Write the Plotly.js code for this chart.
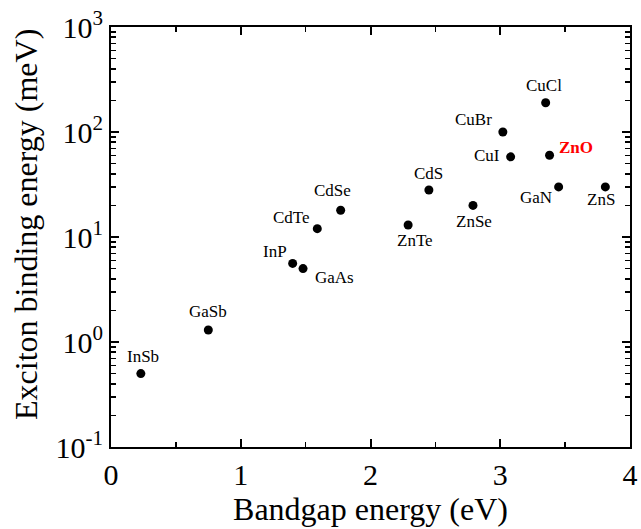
<!DOCTYPE html>
<html>
<head>
<meta charset="utf-8">
<script src="https://cdn.plot.ly/plotly-3.0.1.min.js"></script>
<style>html,body{margin:0;padding:0;background:#fff;}</style>
</head>
<body>
<div id="chart" style="width:641px;height:529px;"></div>
<script>
// Data
const materials = ["InSb","GaSb","InP","GaAs","CdTe","CdSe","ZnTe","CdS","ZnSe","CuBr","CuI","CuCl","ZnO","GaN","ZnS"];
const bandgap = [0.23, 0.75, 1.40, 1.48, 1.59, 1.77, 2.29, 2.45, 2.79, 3.02, 3.08, 3.35, 3.38, 3.45, 3.81];
const binding = [0.5, 1.3, 5.6, 5.0, 12, 18, 13, 28, 20, 100, 58, 190, 60, 30, 30];

// y tick labels
const yTickVals = [0.1, 1, 10, 100, 1000];
const yTickText = ["10<sup>-1</sup>", "10<sup>0</sup>", "10<sup>1</sup>", "10<sup>2</sup>", "10<sup>3</sup>"];
const yMinorVals = [];
yTickVals.slice(0, -1).forEach(d => { for (let k = 2; k <= 9; k++) yMinorVals.push(d * k); });
const yAllVals = yTickVals.concat(yMinorVals);
const yAllText = yTickText.concat(yMinorVals.map(() => ''));

// label offsets (px) relative to each point
const labelDx = [2, 0, -18, 31, -26, -8, 7, 0, 1, -29, -24, -2, 26, -23, -4];
const labelDy = [17, 19, 12, -9, 11, 20, -15, 17, -16, 13, 1, 17, 8, -11, -13];

const serif = "Liberation Serif";

const annotations = materials.map((m, i) => ({
  x: bandgap[i], y: Math.log10(binding[i]), xref: 'x', yref: 'y',
  text: m === 'ZnO' ? '<b>ZnO</b>' : m,
  showarrow: false, xshift: labelDx[i], yshift: labelDy[i],
  font: {family: serif, size: 17, color: m === 'ZnO' ? '#ff0000' : '#000'}
}));
annotations.push({
  text: 'Exciton binding energy (meV)', xref: 'paper', yref: 'paper',
  x: 0, y: 0.5, xshift: -85, yshift: 12, textangle: -90, showarrow: false,
  xanchor: 'center', yanchor: 'middle',
  font: {family: serif, size: 32, color: '#000'}
});

const trace = {
  x: bandgap, y: binding, text: materials, type: 'scatter', mode: 'markers',
  marker: {color: '#000', size: 9},
  hoverinfo: 'text+x+y'
};
// invisible copy on the overlay axis so its longer major ticks are drawn
const majorAxisTrace = {x: bandgap, y: binding, type: 'scatter', mode: 'markers',
  xaxis: 'x', yaxis: 'y2', marker: {opacity: 0, size: 1}, hoverinfo: 'skip'};

const layout = {
  width: 641, height: 529,
  margin: {l: 111, r: 11, t: 27, b: 82},
  paper_bgcolor: '#fff', plot_bgcolor: '#fff',
  showlegend: false,
  font: {family: serif, color: '#000'},
  xaxis: {
    range: [0, 4], dtick: 1, tick0: 0,
    showgrid: false, zeroline: false,
    showline: true, linecolor: '#000', linewidth: 2, mirror: 'ticks',
    ticks: 'inside', ticklen: 8, tickwidth: 2, tickcolor: '#000',
    minor: {dtick: 0.5, ticks: 'inside', ticklen: 5, tickwidth: 1.5, tickcolor: '#000', showgrid: false},
    tickfont: {family: serif, size: 30, color: '#000'},
    title: {text: 'Bandgap energy (eV)', font: {family: serif, size: 32, color: '#000'}, standoff: 4}
  },
  yaxis: {
    type: 'log', range: [-1, 3], tickmode: 'array', tickvals: yAllVals, ticktext: yAllText,
    showgrid: false, zeroline: false,
    showline: true, linecolor: '#000', linewidth: 2, mirror: 'ticks',
    ticks: 'inside', ticklen: 5, tickwidth: 1.5, tickcolor: '#000',
    tickfont: {family: serif, size: 30, color: '#000'}
  },
  yaxis2: {
    type: 'log', range: [-1, 3], overlaying: 'y', side: 'left', anchor: 'x',
    tickmode: 'array', tickvals: yTickVals, ticktext: yTickText.map(() => ''),
    showgrid: false, zeroline: false, showline: false, mirror: 'ticks',
    ticks: 'inside', ticklen: 8, tickwidth: 2, tickcolor: '#000'
  },
  annotations: annotations
};

Plotly.newPlot('chart', [trace, majorAxisTrace], layout, {displayModeBar: false, staticPlot: true});
</script>
</body>
</html>
